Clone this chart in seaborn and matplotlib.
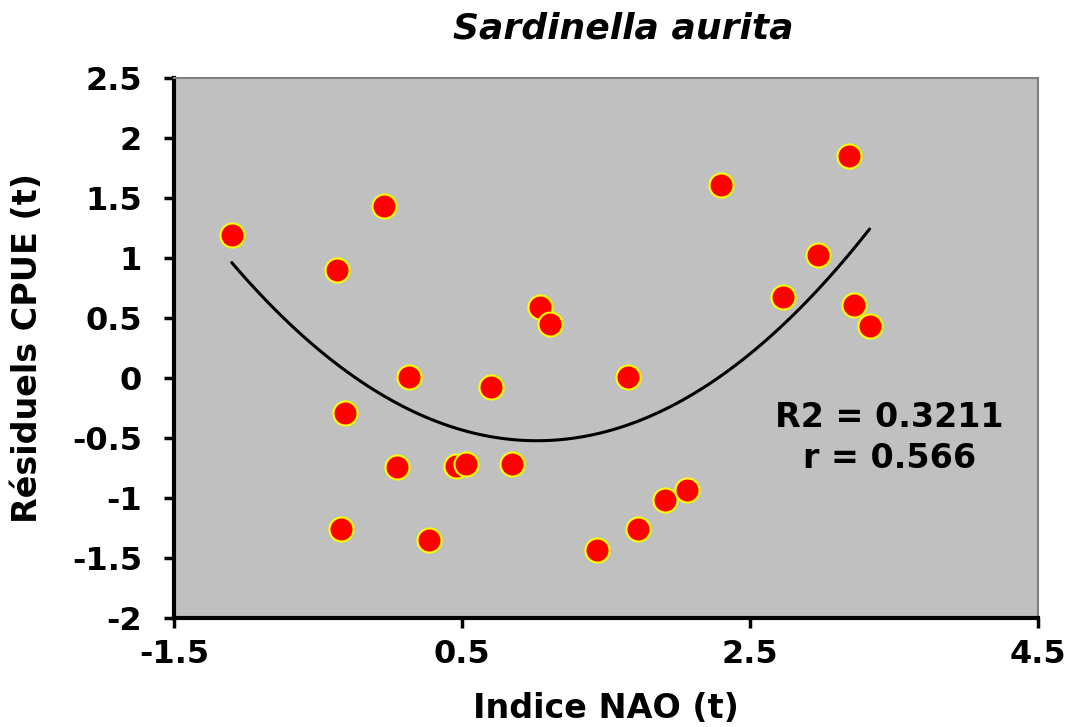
import numpy as np
import pandas as pd
import matplotlib
matplotlib.use("Agg")
import matplotlib.pyplot as plt
import seaborn as sns

# valeurs
nao = [-1.10, -0.37, -0.04, -0.31, -0.34, 0.13, 0.05, 0.27, 0.46, 0.53,
       0.70, 0.85, 1.04, 1.11, 1.44, 1.65, 1.72, 1.91, 2.06, 2.30,
       2.73, 2.97, 3.19, 3.22, 3.33]
cpue_res = [1.19, 0.90, 1.43, -0.29, -1.26, 0.01, -0.74, -1.35, -0.73, -0.72,
            -0.08, -0.72, 0.59, 0.45, -1.43, 0.01, -1.26, -1.02, -0.93, 1.61,
            0.67, 1.02, 1.85, 0.61, 0.43]
x_ticks = [-1.5, 0.5, 2.5, 4.5]
y_ticks = [-2, -1.5, -1, -0.5, 0, 0.5, 1, 1.5, 2, 2.5]
stats_txt = "R2 = 0.3211\nr = 0.566"

df = pd.DataFrame({'nao': nao, 'res': cpue_res})

sns.set_style("white")
plt.rcParams['font.family'] = ['DejaVu Sans']
plt.rcParams['font.weight'] = 'bold'
for k in ['text.color', 'axes.labelcolor', 'xtick.color', 'ytick.color']:
    plt.rcParams[k] = 'black'

fig = plt.figure(figsize=(10.75, 7.27), dpi=100)
ax = fig.add_axes([0.162, 0.150, 0.8036, 0.743])
ax.set_facecolor('#C0C0C0')

sns.regplot(data=df, x='nao', y='res', order=2, ci=None, ax=ax,
            scatter_kws=dict(s=300, color='#FF0000', edgecolor='#FFFF00',
                             linewidths=1.5, alpha=1, zorder=3),
            line_kws=dict(color='black', lw=2.2, zorder=2))

ax.set_xlim(-1.5, 4.5)
ax.set_ylim(-2, 2.5)
ax.set_xticks(x_ticks)
ax.set_xticklabels([f"{v:g}" for v in x_ticks])
ax.set_yticks(y_ticks)
ax.set_yticklabels([f"{v:g}" for v in y_ticks])
ax.tick_params(axis='both', labelsize=23, direction='out', length=7, width=2.5,
               color='black', left=True, bottom=True)
ax.tick_params(axis='x', pad=8)
ax.tick_params(axis='y', pad=16)
for lab in ax.get_xticklabels() + ax.get_yticklabels():
    lab.set_fontweight('bold')

for s in ['left', 'bottom']:
    ax.spines[s].set_color('black')
    ax.spines[s].set_linewidth(3)
for s in ['top', 'right']:
    ax.spines[s].set_visible(True)
    ax.spines[s].set_color('#808080')
    ax.spines[s].set_linewidth(1.5)

ax.set_xlabel("Indice NAO (t)", fontsize=24, fontweight='bold', labelpad=16)
ax.set_ylabel("Résiduels CPUE (t)", fontsize=24, fontweight='bold', labelpad=20)
ax.set_title("Sardinella aurita", fontsize=26, fontweight='bold', style='italic',
             pad=28, x=0.52)

ax.text(3.47, -0.5, stats_txt, fontsize=24, fontweight='bold', ha='center',
        va='center', multialignment='center', linespacing=1.3)

fig.savefig('out.png', dpi=100)
